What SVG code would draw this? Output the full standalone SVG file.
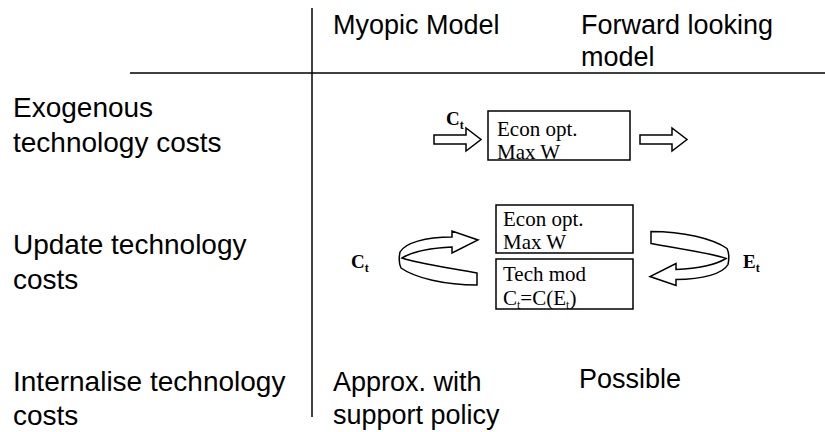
<svg xmlns="http://www.w3.org/2000/svg" xmlns:xlink="http://www.w3.org/1999/xlink" width="825" height="432" viewBox="0 0 825 432">
<style>
.h{font-family:"Liberation Sans",Arial,Helvetica,sans-serif;font-size:27px;fill:#000}
.r{font-size:28px}
.t{font-family:"Liberation Serif","Times New Roman",serif;font-size:21px;fill:#000}
.b{font-family:"Liberation Serif","Times New Roman",serif;font-size:19px;font-weight:bold;fill:#000}
.sub{font-size:12px}
.ln{stroke:#000;stroke-width:1.5;fill:none}
.box{fill:#fff;stroke:#000;stroke-width:1.5}
.arr{fill:#fff;stroke:#000;stroke-width:1.5;stroke-linejoin:miter}
</style>
<defs>
<path id="blk" d="M0,-4.5 H32 V-11.5 L47,0 L32,11.5 V4.5 H0 Z"/>
<path id="curv" d="M477,285 L477,273 C450,268 415,263 402,258 C412,252 430,248 452,247 L452,253 L478,240 L452,231 L452,237 C425,237 405,243 400,252 C399,257 399,264 401,268 C415,278 445,285 477,285 Z"/>
</defs>
<rect width="825" height="432" fill="#fff"/>
<g id="grid">
<line class="ln" x1="312" y1="8" x2="312" y2="417"/>
<line class="ln" x1="130" y1="73" x2="825" y2="73"/>
</g>
<g id="headers">
<text class="h" x="333" y="34">Myopic Model</text>
<text class="h" x="581" y="34">Forward looking</text>
<text class="h" x="581" y="66">model</text>
</g>
<g id="rows">
<text class="h r" x="13" y="117">Exogenous</text>
<text class="h r" x="13" y="152">technology costs</text>
<text class="h r" x="13" y="254">Update technology</text>
<text class="h r" x="13" y="289">costs</text>
<text class="h r" x="13" y="391">Internalise technology</text>
<text class="h r" x="13" y="425">costs</text>
</g>
<g id="connectors">
<use href="#blk" class="arr" transform="translate(434,139.5)"/>
<use href="#blk" class="arr" transform="translate(640,139.5)"/>
<use href="#curv" class="arr"/>
<use href="#curv" class="arr" transform="rotate(180 564 258.25)"/>
</g>
<g id="label-ct1"><text class="b" x="446" y="125">C<tspan class="sub" dy="4">t</tspan></text></g>
<g id="node-econ1">
<rect class="box" x="488" y="111" width="142" height="49"/>
<text class="t" x="497" y="136">Econ opt.</text>
<text class="t" x="497" y="159">Max W</text>
</g>
<g id="label-ct2"><text class="b" x="351" y="268">C<tspan class="sub" dy="4">t</tspan></text></g>
<g id="node-econ2">
<rect class="box" x="496" y="205" width="137" height="48"/>
<text class="t" x="503" y="226">Econ opt.</text>
<text class="t" x="503" y="249">Max W</text>
</g>
<g id="node-tech">
<rect class="box" x="496" y="259" width="137" height="50"/>
<text class="t" x="503" y="281">Tech mod</text>
<text class="t" x="503" y="305">C<tspan class="sub" dy="4">t</tspan><tspan dy="-4">=C(E</tspan><tspan class="sub" dy="4">t</tspan><tspan dy="-4">)</tspan></text>
</g>
<g id="label-et"><text class="b" x="743" y="268">E<tspan class="sub" dy="4">t</tspan></text></g>
<g id="bottom">
<text class="h" x="333" y="391">Approx. with</text>
<text class="h" x="333" y="424">support policy</text>
<text class="h" x="579" y="388">Possible</text>
</g>
</svg>
